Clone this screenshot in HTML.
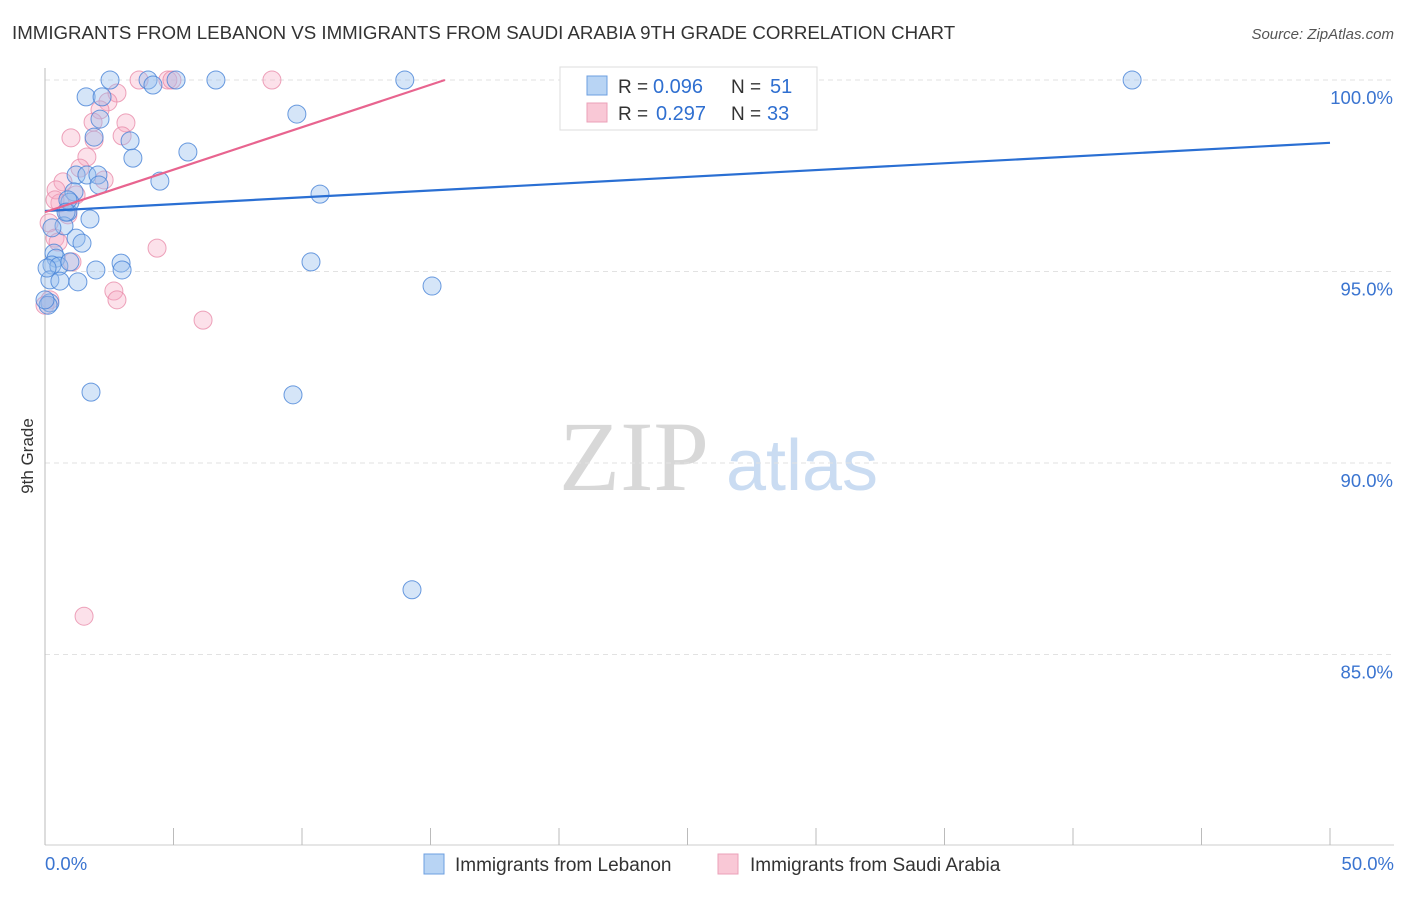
<!DOCTYPE html>
<html><head><meta charset="utf-8"><style>
body{margin:0;background:#fff;font-family:"Liberation Sans",sans-serif;}
svg text{font-family:"Liberation Sans",sans-serif;}
</style></head><body>
<svg id="c" width="1406" height="892">
<text x="12" y="39" font-size="18.7" fill="#333">IMMIGRANTS FROM LEBANON VS IMMIGRANTS FROM SAUDI ARABIA 9TH GRADE CORRELATION CHART</text>
<text x="1394" y="39" font-size="15" fill="#555" text-anchor="end" font-style="italic">Source: ZipAtlas.com</text>
<text x="33" y="456" font-size="17" fill="#333" text-anchor="middle" transform="rotate(-90 33 456)">9th Grade</text>
<g><text x="634" y="490" font-size="100" fill="#d8d8d8" text-anchor="middle" style="font-family:'Liberation Serif',serif">ZIP</text><text x="802" y="490" font-size="72" fill="#cadcf2" text-anchor="middle">atlas</text></g>
<g id="grid"></g><g id="axes"></g><g id="marks"></g>
<g>
<rect x="560" y="67" width="257" height="63" fill="#fff" stroke="#ddd"/>
<rect x="587" y="76" width="20" height="19" fill="#b8d4f4" stroke="#6c9fe0"/>
<rect x="587" y="103" width="20" height="19" fill="#f9c8d6" stroke="#eba1b8"/>
<text x="618" y="93" font-size="19" fill="#333">R =</text><text x="653" y="93" font-size="20" fill="#2f6fd0">0.096</text>
<text x="731" y="93" font-size="19" fill="#333">N =</text><text x="770" y="93" font-size="20" fill="#2f6fd0">51</text>
<text x="618" y="120" font-size="19" fill="#333">R =</text><text x="656" y="120" font-size="20" fill="#2f6fd0">0.297</text>
<text x="731" y="120" font-size="19" fill="#333">N =</text><text x="767" y="120" font-size="20" fill="#2f6fd0">33</text>
</g>
<g>
<rect x="424" y="854" width="20" height="20" fill="#b8d4f4" stroke="#6c9fe0"/>
<text x="455" y="871" font-size="19" fill="#333">Immigrants from Lebanon</text>
<rect x="718" y="854" width="20" height="20" fill="#f9c8d6" stroke="#eba1b8"/>
<text x="750" y="871" font-size="19" fill="#333">Immigrants from Saudi Arabia</text>
</g>
</svg>
<script>
const yTicks=[100,95,90,85];
const yTickLabels=["100.0%","95.0%","90.0%","85.0%"];
const xTickLabels=["0.0%","50.0%"];
const lebX=[2.53,4.01,4.20,5.10,6.65,14.0,42.3,1.60,2.22,2.14,1.91,3.31,3.42,5.56,9.80,4.47,1.21,1.63,2.06,2.10,10.70,1.13,0.89,0.97,1.75,0.74,1.21,1.44,0.35,0.43,0.27,0.54,0.97,2.96,3.00,1.98,10.35,0.19,0.58,1.28,15.06,0.19,0.12,1.79,9.65,14.28,0.89,0.27,0.82,0.08,0];
const lebY=[100,100,99.87,100,100,100,100,99.56,99.56,98.98,98.51,98.41,97.96,98.12,99.11,97.36,97.52,97.52,97.52,97.26,97.02,97.08,96.55,96.81,96.37,96.19,95.87,95.74,95.48,95.35,95.17,95.14,95.25,95.22,95.04,95.04,95.25,94.78,94.75,94.73,94.62,94.18,94.12,91.85,91.78,86.69,96.87,96.14,96.55,95.09,94.26];
const sauX=[3.66,4.78,4.94,8.83,20.46,2.80,2.45,2.14,1.87,3.15,1.01,3.00,1.91,1.63,1.36,2.30,0.70,0.43,1.21,0.58,0.89,0.16,0.39,0.51,1.05,2.68,2.80,4.36,6.15,1.52,0.19,0,0.39];
const sauY=[100,100,100,100,100,99.66,99.43,99.22,98.90,98.88,98.49,98.54,98.43,97.99,97.70,97.39,97.34,97.13,97.00,96.79,96.48,96.27,95.87,95.77,95.25,94.49,94.26,95.61,93.73,86.00,94.26,94.12,96.87];
const lebTrend=[[0,96.58],[50,98.36]];
const sauTrend=[[0,96.55],[15.56,100]];
const NS="http://www.w3.org/2000/svg";
const sx=v=>45+v/50*1285;
const sy=v=>80+(100-v)/5*191.5;
function mk(t,a,p){const e=document.createElementNS(NS,t);for(const k in a)e.setAttribute(k,a[k]);p.appendChild(e);return e;}
const grid=document.getElementById('grid'),axes=document.getElementById('axes'),marks=document.getElementById('marks');
yTicks.forEach((t,i)=>{
 const l=mk('line',{x1:45,x2:1394,y1:sy(t),y2:sy(t),stroke:'#e2e2e2','stroke-dasharray':'5,4'},grid);
 
 
 const tx=mk('text',{x:1393,y:sy(t)+24,'font-size':18.5,fill:'#3a74d0','text-anchor':'end'},axes);
 tx.textContent=yTickLabels[i];
 
 
});
const ax=mk('line',{x1:45,x2:45,y1:68,y2:845,stroke:'#bbb'},axes);


const bx=mk('line',{x1:45,x2:1394,y1:845,y2:845,stroke:'#ccc'},axes);


for(let i=0;i<=10;i++){const v=i*5;const t=mk('line',{x1:sx(v),x2:sx(v),y1:828,y2:845,stroke:'#bbb'},axes);
 
 }
[[0,'start',45],[50,'end',1394]].forEach((d,i)=>{const t=mk('text',{x:d[2],y:870,'font-size':18.5,fill:'#3a74d0','text-anchor':d[1]},axes);t.textContent=xTickLabels[i];
 
 });
function pts(X,Y,fill,stroke,name){X.forEach((x,i)=>{const c=mk('circle',{cx:sx(x),cy:sy(Y[i]),r:9,fill:fill,stroke:stroke,'stroke-width':1},marks);
 
 });}
pts(sauX,sauY,'rgba(246,170,195,0.35)','rgba(232,140,170,0.8)','saudi-point');
pts(lebX,lebY,'rgba(150,190,238,0.4)','rgba(70,130,215,0.8)','lebanon-point');
const t1=mk('line',{x1:sx(lebTrend[0][0]),y1:sy(lebTrend[0][1]),x2:sx(lebTrend[1][0]),y2:sy(lebTrend[1][1]),stroke:'#2a6fd3','stroke-width':2.2},marks);


const t2=mk('line',{x1:sx(sauTrend[0][0]),y1:sy(sauTrend[0][1]),x2:sx(sauTrend[1][0]),y2:sy(sauTrend[1][1]),stroke:'#e8648f','stroke-width':2.2},marks);


</script>
</body></html>
